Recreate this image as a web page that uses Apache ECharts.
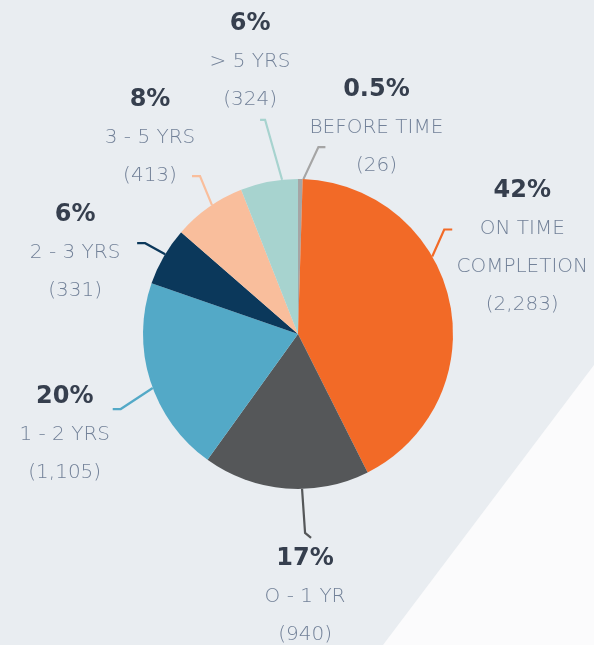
<!DOCTYPE html>
<html lang="en">
<head>
    <meta charset="UTF-8">
    <title>Completion time</title>
    <script src="https://cdn.jsdelivr.net/npm/echarts@6/dist/echarts.min.js"></script>
    <style>
        html, body { margin: 0; padding: 0; background: #e9edf1; }
    </style>
</head>
<body>
    <div id="main" style="width: 594px;height: 645px"></div>
    <script type="text/javascript">
        // data
        var categories = ['BEFORE TIME', 'ON TIME\nCOMPLETION', 'O - 1 YR', '1 - 2 YRS', '2 - 3 YRS', '3 - 5 YRS', '> 5 YRS'];
        var counts = [26, 2283, 940, 1105, 331, 413, 324];
        var pctLabels = ['0.5%', '42%', '17%', '20%', '6%', '8%', '6%'];
        var colors = ['#a5a5a5', '#f26a27', '#555759', '#53a9c7', '#0b385b', '#f9be9c', '#a7d3cf'];

        // pie geometry
        var cx = 298, cy = 334, R = 155;
        // label line: anchor angle (deg clockwise from top), elbow offset, end offset, text offset
        var lineLayout = [
            { a: 2,     elbow: [15, -32], end: [7, 0],  text: [51, -19] },
            { a: 60,    elbow: [12, -27], end: [8, 0],  text: [70, 18] },
            { a: 178.5, elbow: [3, 44],   end: [6, 5],  text: [-6, 59] },
            { a: 249.6, elbow: [-32, 21], end: [-8, 0], text: [-48, 26] },
            { a: 301,   elbow: [-20, -11], end: [-8, 0], text: [-62, 10] },
            { a: 326.3, elbow: [-12, -29], end: [-8, 0], text: [-42, -38] },
            { a: 354.1, elbow: [-17, -60], end: [-5, 0], text: [-10, -58] }
        ];

        var myChart = echarts.init(document.getElementById('main'));

        var pieData = categories.map(function (name, i) {
            return { name: name, value: counts[i], itemStyle: { color: colors[i] } };
        });

        var option = {
            backgroundColor: '#e9edf1',
            animation: false,
            graphic: [{
                type: 'polygon',
                silent: true,
                z: -10,
                shape: { points: [[594, 365], [383, 645], [594, 645]] },
                style: { fill: '#fbfbfc' }
            }],
            series: [{
                type: 'pie',
                center: [cx, cy],
                radius: [0, R],
                startAngle: 90,
                clockwise: true,
                avoidLabelOverlap: false,
                data: pieData,
                label: {
                    show: true,
                    position: 'outside',
                    formatter: function (p) {
                        var lines = p.name.split('\n').map(function (s) { return '{n|' + s + '}'; });
                        return '{p|' + pctLabels[p.dataIndex] + '}\n' + lines.join('\n') +
                            '\n{n|(' + p.value.toLocaleString('en-US') + ')}';
                    },
                    rich: {
                        p: { fontFamily: 'DejaVu Sans', fontWeight: 'bold', fontSize: 24, color: '#363f4e', lineHeight: 38, align: 'center' },
                        n: { fontFamily: 'DejaVu Sans', fontWeight: 200, fontSize: 20, color: '#728198', lineHeight: 38, align: 'center' }
                    }
                },
                labelLine: {
                    show: true,
                    length: 20,
                    length2: 8,
                    lineStyle: { width: 2.2 }
                },
                labelLayout: function (params) {
                    var l = lineLayout[params.dataIndex];
                    var rad = l.a * Math.PI / 180;
                    var p0 = [cx + R * Math.sin(rad), cy - R * Math.cos(rad)];
                    var p1 = [p0[0] + l.elbow[0], p0[1] + l.elbow[1]];
                    var p2 = [p1[0] + l.end[0], p1[1] + l.end[1]];
                    return {
                        x: p2[0] + l.text[0],
                        y: p2[1] + l.text[1],
                        align: 'center',
                        verticalAlign: 'middle',
                        labelLinePoints: [p0, p1, p2]
                    };
                }
            }]
        };

        myChart.setOption(option);
        window.addEventListener("resize", function () {
            myChart.resize();
        });
    </script>
</body>
</html>
